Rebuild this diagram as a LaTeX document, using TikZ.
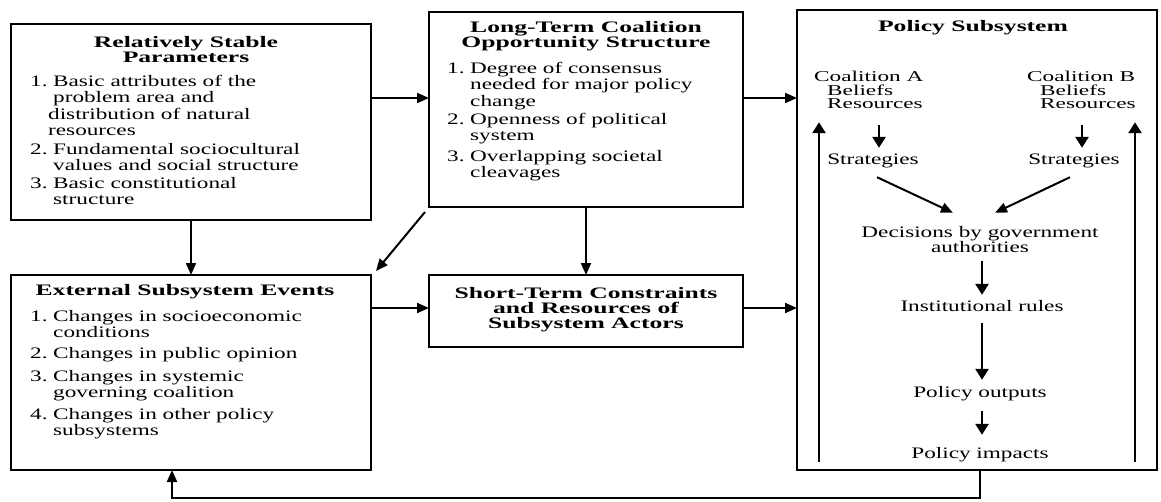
\documentclass[tikz,border=0pt]{standalone}
\usepackage{fontspec}
\setmainfont{Liberation Serif}[FakeStretch=1.45]
\newfontfamily\bftext{Liberation Serif}[FakeStretch=1.6]
\newfontfamily\smtext{Liberation Serif}[FakeStretch=1.55]
\usetikzlibrary{arrows.meta}
\tikzset{
  box/.style={draw, line width=2.5pt, inner sep=0pt, outer sep=0pt},
  arr/.style={line width=2pt, -{Triangle[length=12pt,width=10pt]}},
  arrb/.style={line width=2.6pt, -{Triangle[length=11pt,width=13pt]}},
  ttl/.style={font=\bftext\bfseries\fontsize{16}{15}\selectfont, align=center, inner sep=0pt, anchor=base},
  itm/.style={font=\fontsize{16}{16.5}\selectfont, align=left, inner sep=0pt, anchor=base west},
  lbl/.style={font=\fontsize{16}{15}\selectfont, inner sep=0pt, anchor=base, text height=11pt, text depth=3pt},
  coal/.style={font=\smtext\fontsize{15}{13}\selectfont, inner sep=0pt, anchor=base west, text height=10pt, text depth=2pt},
}
\newcommand{\num}[1]{\makebox[23pt][l]{#1}}
\begin{document}
\begin{tikzpicture}[x=1pt,y=-1pt]
\useasboundingbox (0,0) rectangle (1161,501);
% boxes
\node[box, minimum width=360pt, minimum height=196pt] (b1) at (191,122) {};
\node[box, minimum width=314pt, minimum height=195pt] (b2) at (586,109.5) {};
\node[box, minimum width=360pt, minimum height=460pt] (ps) at (977,240) {};
\node[box, minimum width=360pt, minimum height=195pt] (b4) at (191,372.5) {};
\node[box, minimum width=314pt, minimum height=72pt] (st) at (586,311) {};
% box 1 text (multi-line nodes: base = last line)
\node[ttl] (b1t) at (186,62) {Relatively Stable\\Parameters};
\node[itm] (b1a) at (30,135.5) {\num{1.}Basic attributes of the\\\hspace*{23pt}problem area and\\\hspace*{18pt}distribution of natural\\\hspace*{18pt}resources};
\node[itm] (b1b) at (30,170.5) {\num{2.}Fundamental sociocultural\\\hspace*{23pt}values and social structure};
\node[itm] (b1c) at (30,204.5) {\num{3.}Basic constitutional\\\hspace*{23pt}structure};
% box 2 text
\node[ttl] (b2t) at (586,47) {Long-Term Coalition\\Opportunity Structure};
\node[itm] (b2a) at (447,106) {\num{1.}Degree of consensus\\\hspace*{23pt}needed for major policy\\\hspace*{23pt}change};
\node[itm] (b2b) at (447,140.5) {\num{2.}Openness of political\\\hspace*{23pt}system};
\node[itm] (b2c) at (447,177.5) {\num{3.}Overlapping societal\\\hspace*{23pt}cleavages};
% box 4 text
\node[ttl] (b4t) at (185,295) {External Subsystem Events};
\node[itm] (b4a) at (30,337.5) {\num{1.}Changes in socioeconomic\\\hspace*{23pt}conditions};
\node[itm] (b4b) at (30,358) {\num{2.}Changes in public opinion};
\node[itm] (b4c) at (30,397.5) {\num{3.}Changes in systemic\\\hspace*{23pt}governing coalition};
\node[itm] (b4d) at (30,435.5) {\num{4.}Changes in other policy\\\hspace*{23pt}subsystems};
% short-term text
\node[ttl] (stt) at (586,328) {Short-Term Constraints\\and Resources of\\Subsystem Actors};
% policy subsystem
\node[ttl] (pst) at (973,31) {Policy Subsystem};
\node[coal] (ca1) at (814,81.5) {Coalition A};
\node[coal] (ca2) at (827,95) {Beliefs};
\node[coal] (ca3) at (827,108) {Resources};
\node[coal] (cb1) at (1027,81.5) {Coalition B};
\node[coal] (cb2) at (1040,95) {Beliefs};
\node[coal] (cb3) at (1040,108) {Resources};
\node[lbl] (sa) at (873,164) {Strategies};
\node[lbl] (sb) at (1074,164) {Strategies};
\node[lbl] (d1) at (980,237) {Decisions by government};
\node[lbl] (d2) at (980,252) {authorities};
\node[lbl] (ir) at (982,311) {Institutional rules};
\node[lbl] (po) at (980,397) {Policy outputs};
\node[lbl] (pi) at (980,458) {Policy impacts};
% helper coordinates
\coordinate (r1) at (0,98);
\coordinate (r2) at (0,308);
\coordinate (xa) at (879,0);
\coordinate (xb) at (1082,0);
\coordinate (xm) at (982,0);
\coordinate (fb) at (980,498);
\coordinate (fl) at (172,498);
\coordinate (vl) at (819,462);
\coordinate (vr) at (1135,462);
% main connectors
\draw[arr] (b1.east |- r1) -- (b2.west |- r1);
\draw[arr] (b2.east |- r1) -- (ps.west |- r1);
\draw[arr] (b4.east |- r2) -- (st.west |- r2);
\draw[arr] (st.east |- r2) -- (ps.west |- r2);
\draw[arr] (b1.south) -- (b4.north);
\draw[arr] (b2.south) -- (st.north);
\draw[arr] ([shift={(-4,5)}]b2.south west) -- ([shift={(5,-4)}]b4.north east);
\draw[arr] (ps.south -| fb) -- (fb) -- (fl) -- (b4.south -| fl);
% inside policy subsystem
\draw[arrb, shorten <=15pt, shorten >=5pt] (ca3.south -| xa) -- (sa.north -| xa);
\draw[arrb, shorten <=15pt, shorten >=5pt] (cb3.south -| xb) -- (sb.north -| xb);
\draw[arr] ([shift={(4,10)}]sa.south) -- ([shift={(-27,-13)}]d1.north);
\draw[arr] ([shift={(-4,10)}]sb.south) -- ([shift={(15,-13)}]d1.north);
\draw[arrb, shorten <=6pt, shorten >=5pt] (d2.south -| xm) -- (ir.north -| xm);
\draw[arrb, shorten <=9pt, shorten >=6pt] (ir.south -| xm) -- (po.north -| xm);
\draw[arrb, shorten <=11pt, shorten >=12pt] (po.south -| xm) -- (pi.north -| xm);
\draw[arrb, shorten >=12pt] (vl) -- (vl |- ca3.south);
\draw[arrb, shorten >=12pt] (vr) -- (vr |- cb3.south);
\end{tikzpicture}
\end{document}
